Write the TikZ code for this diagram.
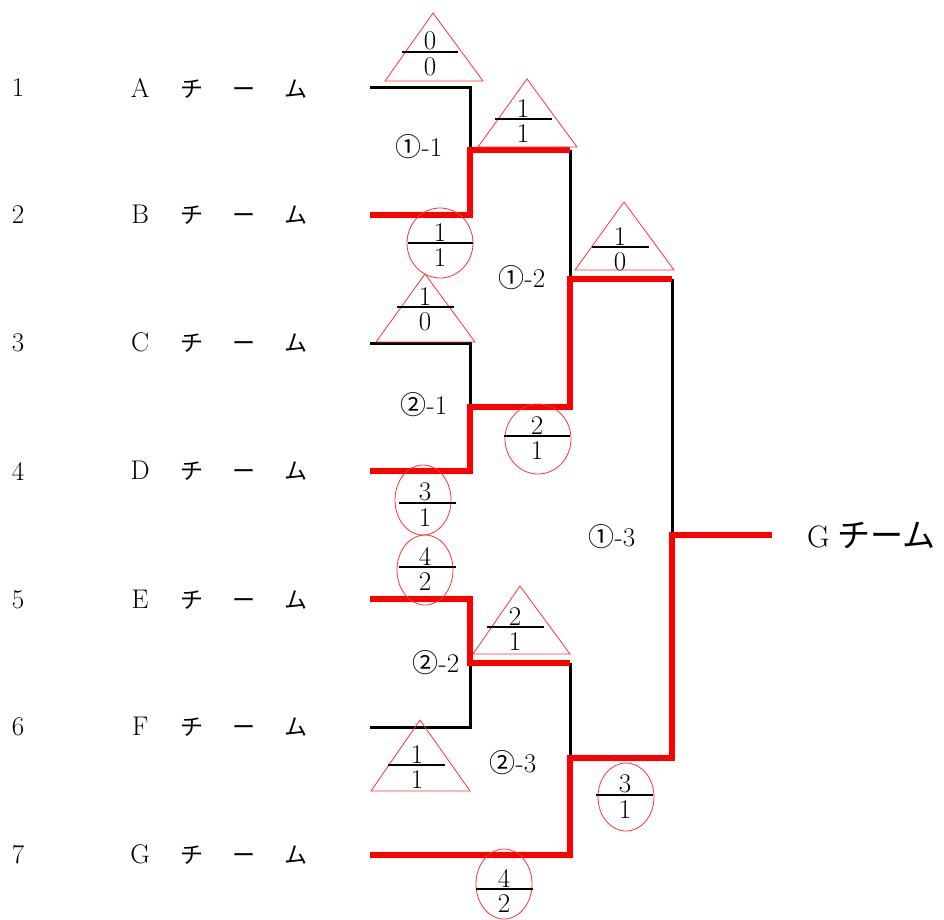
\documentclass[tikz,border=0pt]{standalone}
\usepackage{fontspec}
\newfontfamily\jp{Noto Sans CJK JP}
\usetikzlibrary{positioning}

\newcommand{\kana}[1]{{\jp\fontsize{23}{26}\selectfont #1}}
\newcommand{\teamname}[1]{\makebox[52pt]{#1}\makebox[52pt]{\kana{チ}}\makebox[52pt]{\kana{ー}}\makebox[52pt]{\kana{ム}}}
\newcommand{\rnd}[2]{{\jp\fontsize{26}{28}\selectfont #1}-#2}

\begin{document}
\begin{tikzpicture}[
    x=1pt, y=-1pt,
    every node/.style={font=\fontsize{27}{30}\selectfont},
    lose/.style={black, line width=3pt, line join=miter},
    win/.style={red, line width=6pt, line join=miter},
    tri/.style={draw=red!80, line width=0.8pt, line join=miter},
    ring/.style={draw=red!80, line width=0.8pt},
    bar/.style={black, line width=2.5pt},
    num/.style={anchor=south, inner sep=0pt, yshift=1.5pt},
    den/.style={anchor=north, inner sep=0pt, yshift=-5pt},
    team/.style={anchor=west, inner sep=0pt}
]
\useasboundingbox (0,0) rectangle (944,919);

% ------------------------------------------------------------
% Teams
% ------------------------------------------------------------

\node (n1) at (18,88) {1};
\node (n2) at (18,215) {2};
\node (n3) at (18,343) {3};
\node (n4) at (18,471) {4};
\node (n5) at (18,600) {5};
\node (n6) at (18,727) {6};
\node (n7) at (18,855) {7};

\node[team] (t1) at (114,88) {\teamname{A}};
\node[team] (t2) at (114,215) {\teamname{B}};
\node[team] (t3) at (114,343) {\teamname{C}};
\node[team] (t4) at (114,471) {\teamname{D}};
\node[team] (t5) at (114,600) {\teamname{E}};
\node[team] (t6) at (114,727) {\teamname{F}};
\node[team] (t7) at (114,855) {\teamname{G}};

% ------------------------------------------------------------
% Bracket
% ------------------------------------------------------------

% Line ends and corners
\coordinate (a1) at (370,87);   \coordinate (a1c) at (470,87);
\coordinate (a2) at (370,215);  \coordinate (a2c) at (470,215);
\coordinate (a3) at (370,343);  \coordinate (a3c) at (470,343);
\coordinate (a4) at (370,471);  \coordinate (a4c) at (470,471);
\coordinate (a5) at (370,599);  \coordinate (a5c) at (470,599);
\coordinate (a6) at (370,727);  \coordinate (a6c) at (470,727);
\coordinate (a7) at (370,855);  \coordinate (a7c) at (570,855);

\coordinate (m1) at (470,150);  \coordinate (w1) at (570,150);
\coordinate (m2) at (470,407);  \coordinate (w2) at (570,407);
\coordinate (m3) at (570,279);  \coordinate (w3) at (672,279);
\coordinate (m4) at (470,663);  \coordinate (w4) at (570,663);
\coordinate (m5) at (570,758);  \coordinate (w5) at (672,758);
\coordinate (m6) at (672,535);  \coordinate (g)  at (772,535);

% Losing sides
\draw[lose] (a1) -- (a1c) -- (m1);
\draw[lose] (w1) -- (m3);
\draw[lose] (a3) -- (a3c) -- (m2);
\draw[lose] (a6) -- (a6c) -- (m4);
\draw[lose] (w4) -- (m5);
\draw[lose] (w3) -- (m6);

% Winning path
\draw[win] (a2) -- (a2c) -- (m1) -- (w1);
\draw[win] (a4) -- (a4c) -- (m2) -- (w2) -- (m3) -- (w3);
\draw[win] (a5) -- (a5c) -- (m4) -- (w4);
\draw[win] (a7) -- (a7c) -- (m5) -- (w5) -- (m6) -- (g);

% Winner
\node[anchor=west, inner sep=0pt] (champ) at (807,535)
  {\fontsize{31}{34}\selectfont G\hspace{8pt}{\jp\fontsize{33}{36}\selectfont チーム}};

% ------------------------------------------------------------
% Match labels
% ------------------------------------------------------------

\node (r11) at (419,147) {\rnd{①}{1}};
\node (r12) at (522,278) {\rnd{①}{2}};
\node (r21) at (424,405) {\rnd{②}{1}};
\node (r22) at (436,663) {\rnd{②}{2}};
\node (r23) at (513,763) {\rnd{②}{3}};
\node (r13) at (612,537) {\rnd{①}{3}};

% ------------------------------------------------------------
% Scores: triangles
% ------------------------------------------------------------

\draw[tri] (433,13) -- (385,81) -- (483,81) -- cycle;
\draw[bar] (402,52) -- (458,52);
\node[num] (s1n) at (430,52) {0};
\node[den] (s1d) at (430,52) {0};

\draw[tri] (527,79) -- (478,147) -- (577,147) -- cycle;
\draw[bar] (495,119) -- (552,119);
\node[num] (s2n) at (523,119) {1};
\node[den] (s2d) at (523,119) {1};

\draw[tri] (624,202) -- (575,270) -- (674,270) -- cycle;
\draw[bar] (592,247) -- (649,247);
\node[num] (s3n) at (620,247) {1};
\node[den] (s3d) at (620,247) {0};

\draw[tri] (425,274) -- (376,342) -- (475,342) -- cycle;
\draw[bar] (397,307) -- (454,307);
\node[num] (s4n) at (425,307) {1};
\node[den] (s4d) at (425,307) {0};

\draw[tri] (520,586) -- (473,654) -- (570,654) -- cycle;
\draw[bar] (487,627) -- (544,627);
\node[num] (s5n) at (515,627) {2};
\node[den] (s5d) at (515,627) {1};

\draw[tri] (420,720) -- (371,791) -- (470,791) -- cycle;
\draw[bar] (388,765) -- (445,765);
\node[num] (s6n) at (417,765) {1};
\node[den] (s6d) at (417,765) {1};

% ------------------------------------------------------------
% Scores: circles
% ------------------------------------------------------------

\draw[ring] (440,243) ellipse [x radius=33, y radius=35];
\draw[bar] (408,243) -- (473,243);
\node[num] (c1n) at (440,243) {1};
\node[den] (c1d) at (440,243) {1};

\draw[ring] (538,439) ellipse [x radius=33, y radius=35];
\draw[bar] (504,436) -- (570,436);
\node[num] (c2n) at (537,436) {2};
\node[den] (c2d) at (537,436) {1};

\draw[ring] (423,500) ellipse [x radius=28, y radius=35];
\draw[bar] (399,503) -- (456,503);
\node[num] (c3n) at (425,503) {3};
\node[den] (c3d) at (425,503) {1};

\draw[ring] (425,570) ellipse [x radius=28, y radius=35];
\draw[bar] (399,567) -- (456,567);
\node[num] (c4n) at (425,567) {4};
\node[den] (c4d) at (425,567) {2};

\draw[ring] (626,797) ellipse [x radius=28, y radius=34];
\draw[bar] (596,795) -- (653,795);
\node[num] (c5n) at (625,795) {3};
\node[den] (c5d) at (625,795) {1};

\draw[ring] (504,884) ellipse [x radius=28, y radius=35];
\draw[bar] (476,889) -- (533,889);
\node[num] (c6n) at (504,889) {4};
\node[den] (c6d) at (504,889) {2};

\end{tikzpicture}
\end{document}
